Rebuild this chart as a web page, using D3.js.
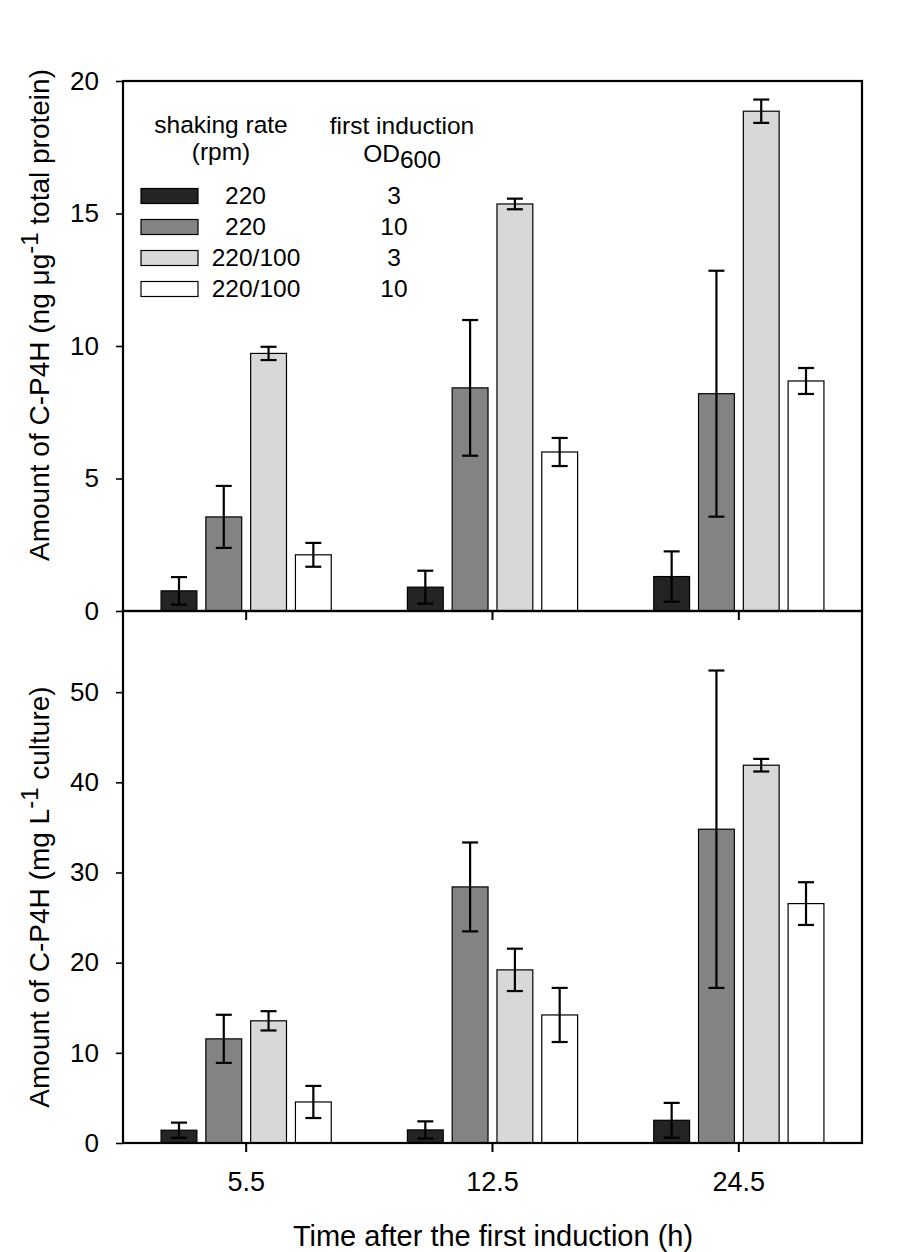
<!DOCTYPE html>
<html>
<head>
<meta charset="utf-8">
<script src="https://cdn.jsdelivr.net/npm/d3@7"></script>
<style>
  body { margin: 0; background: #fff; }
  text { font-family: "Liberation Sans", Arial, sans-serif; fill: #000; }
</style>
</head>
<body>
<svg id="chart" width="905" height="1252"></svg>
<script>
// data
const times = ["5.5", "12.5", "24.5"];
const shakingRate = ["220", "220", "220/100", "220/100"];
const inductionOD = ["3", "10", "3", "10"];
const barColors = ["#242424", "#838383", "#d8d8d8", "#ffffff"];

// ng per ug total protein, series x time
const proteinMean = [
    [0.76, 0.90, 1.30],
    [3.55, 8.42, 8.20],
    [9.72, 15.36, 18.86],
    [2.12, 6.00, 8.68]
];
const proteinErr = [
    [0.52, 0.62, 0.95],
    [1.17, 2.56, 4.64],
    [0.25, 0.20, 0.44],
    [0.45, 0.53, 0.49]
];

// mg per L culture
const cultureMean = [
    [1.42, 1.45, 2.52],
    [11.55, 28.4, 34.8],
    [13.55, 19.2, 41.9],
    [4.55, 14.2, 26.55]
];
const cultureErr = [
    [0.84, 0.95, 1.93],
    [2.67, 4.93, 17.6],
    [1.07, 2.35, 0.70],
    [1.78, 3.00, 2.37]
];

const proteinTicks = [0, 5, 10, 15, 20];
const cultureTicks = [0, 10, 20, 30, 40, 50];

const svg = d3.select("#chart");

const left = 123, right = 862;
const topY = 81, midY = 611, bottomY = 1143;

const x0 = d3.scaleBand().domain(times).range([left, right]).padding(0);
const x1 = d3.scaleBand()
    .domain(d3.range(shakingRate.length))
    .range([0, x0.bandwidth()])
    .paddingInner(0.2)
    .paddingOuter(0.85);

const yProtein = d3.scaleLinear().domain([0, 20]).range([midY, topY]);
const yCulture = d3.scaleLinear().domain([0, 59]).range([bottomY, midY]);

function drawPanel(y, means, errs, ticks, showXLabels) {
    const g = svg.append("g");

    // bars
    means.forEach((row, s) => {
        row.forEach((v, t) => {
            g.append("rect")
                .attr("x", x0(times[t]) + x1(s))
                .attr("y", y(v))
                .attr("width", x1.bandwidth())
                .attr("height", y(0) - y(v))
                .attr("fill", barColors[s])
                .attr("stroke", "#000")
                .attr("stroke-width", 1.2);
        });
    });

    // error bars
    const capHalf = 8;
    means.forEach((row, s) => {
        row.forEach((v, t) => {
            const cx = x0(times[t]) + x1(s) + x1.bandwidth() / 2;
            const lo = y(v - errs[s][t]), hi = y(v + errs[s][t]);
            g.append("line")
                .attr("x1", cx).attr("x2", cx)
                .attr("y1", lo).attr("y2", hi)
                .attr("stroke", "#000").attr("stroke-width", 2.2);
            [lo, hi].forEach(yy => {
                g.append("line")
                    .attr("x1", cx - capHalf).attr("x2", cx + capHalf)
                    .attr("y1", yy).attr("y2", yy)
                    .attr("stroke", "#000").attr("stroke-width", 2.2);
            });
        });
    });

    // frame
    const [y0, y1] = y.range();
    g.append("rect")
        .attr("x", left).attr("y", y1)
        .attr("width", right - left).attr("height", y0 - y1)
        .attr("fill", "none")
        .attr("stroke", "#000")
        .attr("stroke-width", 2.2);

    // y axis
    const yAxis = g.append("g")
        .attr("transform", `translate(${left},0)`)
        .call(d3.axisLeft(y).tickValues(ticks).tickSize(7).tickSizeOuter(0).tickPadding(17));
    yAxis.select(".domain").remove();
    yAxis.selectAll(".tick line").attr("stroke-width", 1.6);
    yAxis.selectAll("text")
        .attr("font-size", 26)
        .attr("font-family", "'Liberation Sans', Arial, sans-serif")
        .attr("fill", "#000");

    // x axis
    const xAxis = g.append("g")
        .attr("transform", `translate(0,${y0})`)
        .call(d3.axisBottom(x0).tickSize(9).tickSizeOuter(0).tickPadding(20)
            .tickFormat(showXLabels ? d => d : () => ""));
    xAxis.select(".domain").remove();
    xAxis.selectAll(".tick line").attr("stroke-width", 2);
    xAxis.selectAll("text")
        .attr("font-size", 27)
        .attr("font-family", "'Liberation Sans', Arial, sans-serif")
        .attr("fill", "#000");
}

drawPanel(yProtein, proteinMean, proteinErr, proteinTicks, false);
drawPanel(yCulture, cultureMean, cultureErr, cultureTicks, true);

// axis titles
const t1 = svg.append("text")
    .attr("transform", "translate(49,315) rotate(-90)")
    .attr("text-anchor", "middle")
    .attr("font-size", 28);
t1.append("tspan").text("Amount of C-P4H (ng \u03bcg");
t1.append("tspan").attr("dy", -11).attr("font-size", 24).text("-1");
t1.append("tspan").attr("dy", 11).text(" total protein)");

const t2 = svg.append("text")
    .attr("transform", "translate(49,897) rotate(-90)")
    .attr("text-anchor", "middle")
    .attr("font-size", 28);
t2.append("tspan").text("Amount of C-P4H (mg L");
t2.append("tspan").attr("dy", -11).attr("font-size", 24).text("-1");
t2.append("tspan").attr("dy", 11).text(" culture)");

svg.append("text")
    .attr("x", 493)
    .attr("y", 1246)
    .attr("text-anchor", "middle")
    .attr("font-size", 29)
    .text("Time after the first induction (h)");

// legend
const legend = svg.append("g");
const lf = 24.5;
legend.append("text").attr("x", 221).attr("y", 133).attr("text-anchor", "middle")
    .attr("font-size", lf).text("shaking rate");
legend.append("text").attr("x", 221).attr("y", 160).attr("text-anchor", "middle")
    .attr("font-size", lf).text("(rpm)");
legend.append("text").attr("x", 402).attr("y", 134).attr("text-anchor", "middle")
    .attr("font-size", lf).text("first induction");
const od = legend.append("text").attr("x", 402).attr("y", 162).attr("text-anchor", "middle")
    .attr("font-size", lf);
od.append("tspan").text("OD");
od.append("tspan").attr("dy", 6).text("600");

const rowY = d3.scaleLinear().domain([0, 3]).range([196, 289]);
shakingRate.forEach((r, i) => {
    legend.append("rect")
        .attr("x", 141).attr("y", rowY(i) - 7.5)
        .attr("width", 57).attr("height", 15)
        .attr("fill", barColors[i])
        .attr("stroke", "#000").attr("stroke-width", 1.2);
    legend.append("text")
        .attr("x", r.length > 3 ? 256 : 245.5).attr("y", rowY(i) + 8)
        .attr("text-anchor", "middle")
        .attr("font-size", lf).text(r);
    legend.append("text")
        .attr("x", 394).attr("y", rowY(i) + 8)
        .attr("text-anchor", "middle")
        .attr("font-size", lf).text(inductionOD[i]);
});
</script>
</body>
</html>
